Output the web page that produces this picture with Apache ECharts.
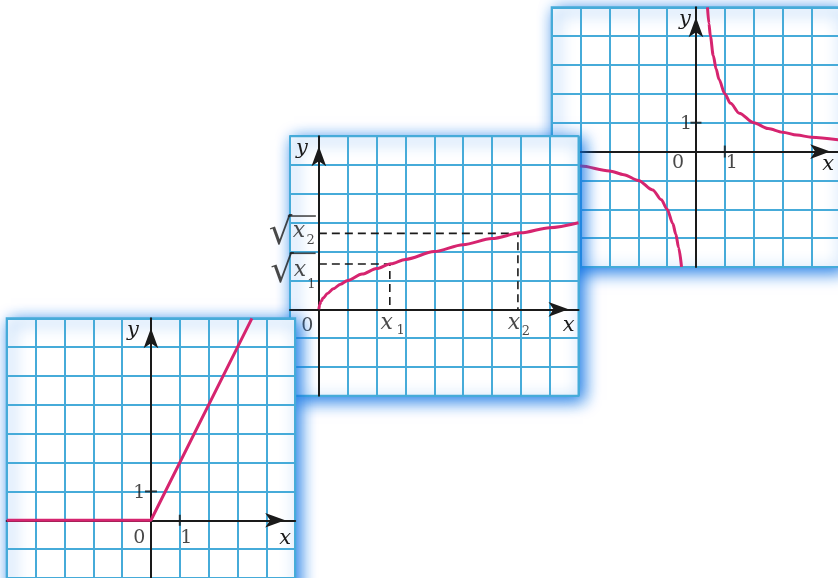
<!DOCTYPE html>
<html>
<head>
<meta charset="utf-8">
<script src="https://cdn.jsdelivr.net/npm/echarts@6/dist/echarts.min.js"></script>
<style>
html, body { margin: 0; padding: 0; background: #fff; }
#chart { width: 838px; height: 578px; }
</style>
</head>
<body>
<div id="chart"></div>
<script>
// panel 1 (front): y = 0 for x < 0, y = 2x for x > 0
var p1Line = [[-5, 0], [0, 0], [3.5, 7]];
// panel 2 (middle): y = sqrt(x)
var p2Curve = [[0, 0], [0.03, 0.17], [0.08, 0.28], [0.15, 0.39], [0.3, 0.55], [0.5, 0.71],
  [0.75, 0.87], [1, 1], [1.5, 1.22], [2, 1.41], [2.5, 1.58], [3, 1.73], [4, 2], [5, 2.24],
  [6, 2.45], [7, 2.65], [8, 2.83], [9, 3]];
var p2X1 = 2.46, p2Y1 = 1.57;
var p2X2 = 6.9, p2Y2 = 2.63;
var p2Guide1 = [[0, p2Y1], [p2X1, p2Y1], [p2X1, 0]];
var p2Guide2 = [[0, p2Y2], [p2X2, p2Y2], [p2X2, 0]];
// panel 3 (back): hyperbola
var p3Right = [[0.4, 5], [0.45, 4.44], [0.5, 4], [0.6, 3.33], [0.7, 2.86], [0.8, 2.5], [1, 2],
  [1.2, 1.67], [1.5, 1.33], [2, 1], [2.5, 0.8], [3, 0.67], [3.5, 0.57], [4, 0.5], [5, 0.4]];
var p3Left = [[-5, -0.4], [-4, -0.5], [-3, -0.67], [-2.5, -0.8], [-2, -1], [-1.5, -1.33],
  [-1.2, -1.67], [-1, -2], [-0.8, -2.5], [-0.7, -2.86], [-0.6, -3.33], [-0.5, -4]];
// unit ticks
var unitTickX = [[1, 0]];
var unitTickY = [[0, 1]];
// axis ranges: xmin, xmax, ymin, ymax
var p1Range = [-5, 5, -3, 7];
var p2Range = [-1, 9, -3, 6];
var p3Range = [-5, 5, -4, 5];
// label texts
var originText = '0';
var unitText = '1';
var varText = 'x';
var rootText = '√';
var subTexts = ['1', '2'];

var CELL = 28.85;
var GRID = '#46abd9', AXIS = '#1a1a1a', CURVE = '#d6246f';
var SERIF = '"DejaVu Serif", "Liberation Serif", serif';

function gridOf(left, top, r, zl) {
  return {
    left: left, top: top, width: CELL * (r[1] - r[0]), height: CELL * (r[3] - r[2]),
    show: true, backgroundColor: '#fff', borderColor: GRID, borderWidth: 2,
    shadowBlur: 16, shadowColor: 'rgba(15,115,228,1)', shadowOffsetX: 4, shadowOffsetY: 4,
    zlevel: zl, containLabel: false, outerBoundsMode: 'none'
  };
}

function axisOf(dim, gi, r, zl, nameGap, namePad) {
  var isX = dim === 'x';
  return {
    type: 'value', gridIndex: gi, zlevel: zl, interval: 1,
    min: isX ? r[0] : r[2], max: isX ? r[1] : r[3],
    axisLine: { onZero: true, symbol: ['none', 'arrow'], symbolSize: [11, 20], symbolOffset: [0, -10],
      lineStyle: { color: AXIS, width: 2 } },
    axisTick: { show: false },
    axisLabel: { show: false },
    splitLine: { show: true, lineStyle: { color: GRID, width: 2 } },
    name: dim, nameLocation: 'end', nameGap: nameGap, nameMoveOverlap: false,
    nameTextStyle: { fontFamily: SERIF, fontStyle: 'italic', fontSize: 21, color: AXIS,
      align: 'right', verticalAlign: 'top', padding: namePad }
  };
}

// label styles
var numStyle = { fontSize: 19 };
var varStyle = { fontSize: 22, fontStyle: 'italic' };
var subStyle = { fontSize: 13 };
var rootStyle = { fontSize: 37 };
function barStyle(w) { return { width: w, height: 1.6, lineHeight: 1.6, fontSize: 1, padding: 0, backgroundColor: AXIS }; }

function lineS(data, gi, zl, extra) {
  var s = { type: 'line', data: data, xAxisIndex: gi, yAxisIndex: gi, zlevel: zl, z: 3,
    symbol: 'none', silent: true, lineStyle: { color: CURVE, width: 3 } };
  for (var k in extra) s[k] = extra[k];
  return s;
}
function tickS(data, gi, zl, size) {
  return { type: 'scatter', data: data, xAxisIndex: gi, yAxisIndex: gi, zlevel: zl, z: 4,
    symbol: 'rect', symbolSize: size, silent: true, itemStyle: { color: AXIS } };
}
// text placed at a data point, shifted by a pixel offset
function textS(point, text, gi, zl, offset, st) {
  var label = { show: true, position: 'inside', offset: offset, align: 'center', verticalAlign: 'middle',
    fontFamily: SERIF, fontStyle: 'normal', color: AXIS, formatter: text };
  for (var k in st) label[k] = st[k];
  return { type: 'scatter', data: [point], xAxisIndex: gi, yAxisIndex: gi, zlevel: zl, z: 5,
    symbolSize: 1, silent: true, itemStyle: { color: 'rgba(0,0,0,0)' }, label: label };
}
var dashStyle = { color: AXIS, width: 1.6, type: [8, 5] };

var chart = echarts.init(document.getElementById('chart'), null, { renderer: 'canvas' });
chart.setOption({
  animation: false,
  backgroundColor: '#fff',
  grid: [
    gridOf(551.7, 7.3, p3Range, 0),
    gridOf(290, 136.2, p2Range, 1),
    gridOf(6.7, 318.3, p1Range, 2)
  ],
  xAxis: [
    axisOf('x', 0, p3Range, 0, -6, [2, 0, 0, 0]),
    axisOf('x', 1, p2Range, 1, -4, [6, 0, 0, 0]),
    axisOf('x', 2, p1Range, 2, -4, [8, 0, 0, 0])
  ],
  yAxis: [
    axisOf('y', 0, p3Range, 0, -2, [0, 5, 0, 0]),
    axisOf('y', 1, p2Range, 1, -2, [0, 11, 0, 0]),
    axisOf('y', 2, p1Range, 2, -2, [0, 12, 0, 0])
  ],
  series: [
    // back panel
    lineS(p3Right, 0, 0, { smooth: 0.3, smoothMonotone: 'x' }),
    lineS(p3Left, 0, 0, { smooth: 0.3, smoothMonotone: 'x' }),
    tickS(unitTickX, 0, 0, [2, 12]),
    tickS(unitTickY, 0, 0, [11, 2]),
    textS([0, 0], originText, 0, 0, [-18, 12], numStyle),
    textS(unitTickX[0], unitText, 0, 0, [7, 12], numStyle),
    textS(unitTickY[0], unitText, 0, 0, [-10, 1], numStyle),
    // middle panel
    lineS(p2Guide1, 1, 1, { lineStyle: dashStyle, z: 2 }),
    lineS(p2Guide2, 1, 1, { lineStyle: dashStyle, z: 2 }),
    lineS(p2Curve, 1, 1, { smooth: 0.3, smoothMonotone: 'x' }),
    textS([0, 0], originText, 1, 1, [-11.5, 17], numStyle),
    textS([p2X1, 0], varText, 1, 1, [-3, 13.5], varStyle),
    textS([p2X1, 0], subTexts[0], 1, 1, [10.7, 21.7], subStyle),
    textS([p2X2, 0], varText, 1, 1, [-4, 13.5], varStyle),
    textS([p2X2, 0], subTexts[1], 1, 1, [8, 22.4], subStyle),
    textS([0, p2Y1], rootText, 1, 1, [-36.7, 8.5], rootStyle),
    textS([0, p2Y1], varText, 1, 1, [-19, 6.6], varStyle),
    textS([0, p2Y1], subTexts[0], 1, 1, [-7.5, 20.5], subStyle),
    textS([0, p2Y1], ' ', 1, 1, [-16.2, -10.7], barStyle(26)),
    textS([0, p2Y2], rootText, 1, 1, [-38.3, 1], rootStyle),
    textS([0, p2Y2], varText, 1, 1, [-20, -1.8], varStyle),
    textS([0, p2Y2], subTexts[1], 1, 1, [-8.2, 7.6], subStyle),
    textS([0, p2Y2], ' ', 1, 1, [-17, -17.4], barStyle(28)),
    // front panel
    lineS(p1Line, 2, 2, {}),
    tickS(unitTickX, 2, 2, [2, 11]),
    tickS(unitTickY, 2, 2, [12, 2]),
    textS([0, 0], originText, 2, 2, [-11.7, 18.2], numStyle),
    textS(unitTickX[0], unitText, 2, 2, [6.5, 18.2], numStyle),
    textS(unitTickY[0], unitText, 2, 2, [-11.7, 2], numStyle)
  ]
});
</script>
</body>
</html>
